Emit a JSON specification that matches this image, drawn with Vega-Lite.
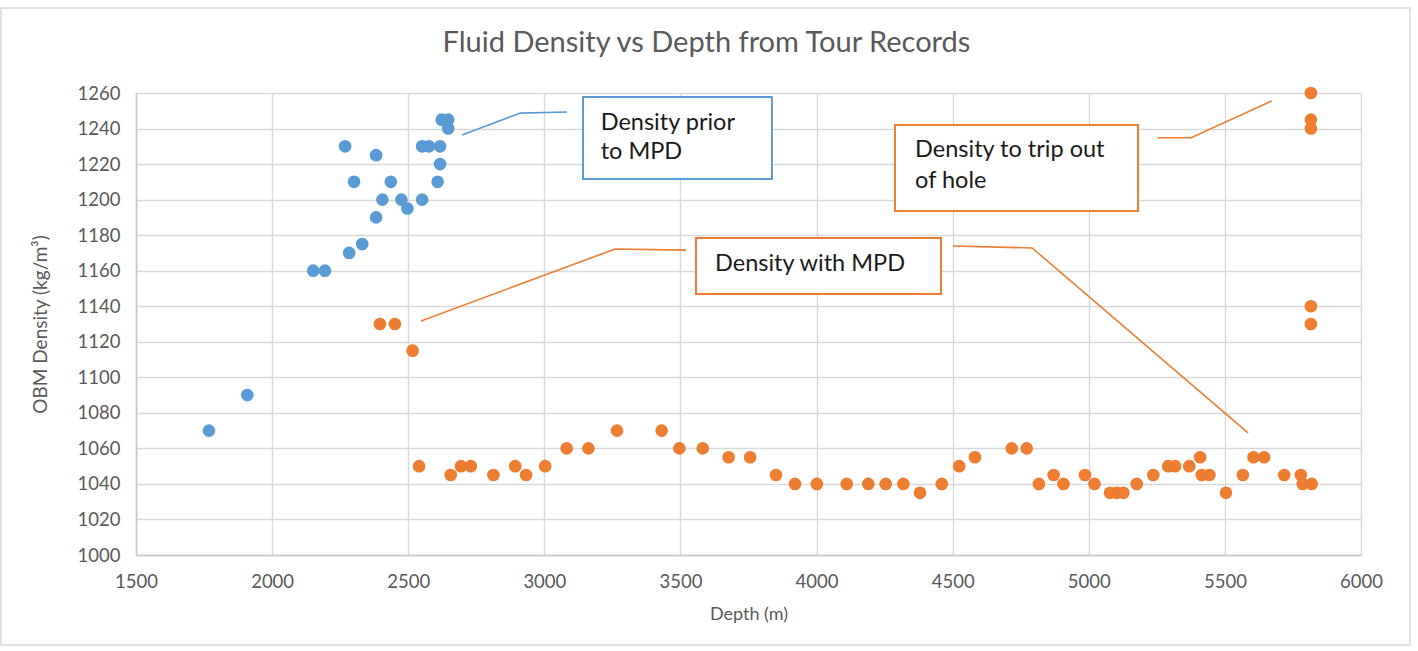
{
  "$schema": "https://vega.github.io/schema/vega-lite/v6.json",
  "width": 1225,
  "height": 462,
  "autosize": {"type": "none"},
  "padding": {"left": 136, "top": 93, "right": 57, "bottom": 96},
  "background": "white",
  "title": {
    "text": "Fluid Density vs Depth from Tour Records",
    "font": "Lato",
    "fontSize": 29,
    "fontWeight": "normal",
    "color": "#595959",
    "anchor": "middle",
    "baseline": "alphabetic",
    "offset": 0,
    "dx": -42,
    "dy": 74
  },
  "config": {
    "view": {"stroke": null},
    "font": "Lato",
    "axis": {
      "labelFont": "Lato",
      "labelFontSize": 18.5,
      "labelColor": "#595959",
      "labelOverlap": false,
      "labelFlush": false,
      "titleFont": "Lato",
      "titleFontSize": 18,
      "titleFontWeight": "normal",
      "titleColor": "#595959",
      "gridColor": "#D9D9D9",
      "gridWidth": 1.4,
      "domainColor": "#C8C8C8",
      "domainWidth": 1.5,
      "ticks": false,
      "tickSize": 0
    }
  },
  "datasets": {
    "points": [
      {"depth": 1768, "density": 1070, "series": "prior"},
      {"depth": 1909, "density": 1090, "series": "prior"},
      {"depth": 2151, "density": 1160, "series": "prior"},
      {"depth": 2194, "density": 1160, "series": "prior"},
      {"depth": 2268, "density": 1230, "series": "prior"},
      {"depth": 2283, "density": 1170, "series": "prior"},
      {"depth": 2301, "density": 1210, "series": "prior"},
      {"depth": 2331, "density": 1175, "series": "prior"},
      {"depth": 2382, "density": 1225, "series": "prior"},
      {"depth": 2382, "density": 1190, "series": "prior"},
      {"depth": 2405, "density": 1200, "series": "prior"},
      {"depth": 2436, "density": 1210, "series": "prior"},
      {"depth": 2475, "density": 1200, "series": "prior"},
      {"depth": 2497, "density": 1195, "series": "prior"},
      {"depth": 2551, "density": 1200, "series": "prior"},
      {"depth": 2551, "density": 1230, "series": "prior"},
      {"depth": 2576, "density": 1230, "series": "prior"},
      {"depth": 2608, "density": 1210, "series": "prior"},
      {"depth": 2617, "density": 1230, "series": "prior"},
      {"depth": 2617, "density": 1220, "series": "prior"},
      {"depth": 2623, "density": 1245, "series": "prior"},
      {"depth": 2647, "density": 1245, "series": "prior"},
      {"depth": 2647, "density": 1240, "series": "prior"},
      {"depth": 2396, "density": 1130, "series": "with"},
      {"depth": 2451, "density": 1130, "series": "with"},
      {"depth": 2516, "density": 1115, "series": "with"},
      {"depth": 2540, "density": 1050, "series": "with"},
      {"depth": 2656, "density": 1045, "series": "with"},
      {"depth": 2694, "density": 1050, "series": "with"},
      {"depth": 2730, "density": 1050, "series": "with"},
      {"depth": 2813, "density": 1045, "series": "with"},
      {"depth": 2893, "density": 1050, "series": "with"},
      {"depth": 2933, "density": 1045, "series": "with"},
      {"depth": 3003, "density": 1050, "series": "with"},
      {"depth": 3082, "density": 1060, "series": "with"},
      {"depth": 3162, "density": 1060, "series": "with"},
      {"depth": 3267, "density": 1070, "series": "with"},
      {"depth": 3431, "density": 1070, "series": "with"},
      {"depth": 3496, "density": 1060, "series": "with"},
      {"depth": 3582, "density": 1060, "series": "with"},
      {"depth": 3677, "density": 1055, "series": "with"},
      {"depth": 3756, "density": 1055, "series": "with"},
      {"depth": 3851, "density": 1045, "series": "with"},
      {"depth": 3921, "density": 1040, "series": "with"},
      {"depth": 4001, "density": 1040, "series": "with"},
      {"depth": 4111, "density": 1040, "series": "with"},
      {"depth": 4190, "density": 1040, "series": "with"},
      {"depth": 4254, "density": 1040, "series": "with"},
      {"depth": 4319, "density": 1040, "series": "with"},
      {"depth": 4380, "density": 1035, "series": "with"},
      {"depth": 4460, "density": 1040, "series": "with"},
      {"depth": 4524, "density": 1050, "series": "with"},
      {"depth": 4582, "density": 1055, "series": "with"},
      {"depth": 4717, "density": 1060, "series": "with"},
      {"depth": 4772, "density": 1060, "series": "with"},
      {"depth": 4817, "density": 1040, "series": "with"},
      {"depth": 4871, "density": 1045, "series": "with"},
      {"depth": 4907, "density": 1040, "series": "with"},
      {"depth": 4986, "density": 1045, "series": "with"},
      {"depth": 5021, "density": 1040, "series": "with"},
      {"depth": 5078, "density": 1035, "series": "with"},
      {"depth": 5103, "density": 1035, "series": "with"},
      {"depth": 5127, "density": 1035, "series": "with"},
      {"depth": 5176, "density": 1040, "series": "with"},
      {"depth": 5237, "density": 1045, "series": "with"},
      {"depth": 5292, "density": 1050, "series": "with"},
      {"depth": 5317, "density": 1050, "series": "with"},
      {"depth": 5369, "density": 1050, "series": "with"},
      {"depth": 5409, "density": 1055, "series": "with"},
      {"depth": 5415, "density": 1045, "series": "with"},
      {"depth": 5443, "density": 1045, "series": "with"},
      {"depth": 5504, "density": 1035, "series": "with"},
      {"depth": 5566, "density": 1045, "series": "with"},
      {"depth": 5605, "density": 1055, "series": "with"},
      {"depth": 5644, "density": 1055, "series": "with"},
      {"depth": 5718, "density": 1045, "series": "with"},
      {"depth": 5779, "density": 1045, "series": "with"},
      {"depth": 5786, "density": 1040, "series": "with"},
      {"depth": 5819, "density": 1040, "series": "with"},
      {"depth": 5816, "density": 1260, "series": "with"},
      {"depth": 5816, "density": 1245, "series": "with"},
      {"depth": 5816, "density": 1240, "series": "with"},
      {"depth": 5816, "density": 1140, "series": "with"},
      {"depth": 5816, "density": 1130, "series": "with"}
    ],
    "frame": [
      {"x1": 1004, "x2": 6180, "y1": 949.4, "y2": 1307.8}
    ],
    "boxes": [
      {"id": "prior", "series": "prior", "x1": 3142, "x2": 3836, "y1": 1211.6, "y2": 1257.7},
      {"id": "trip", "series": "with", "x1": 4288, "x2": 5181, "y1": 1193.6, "y2": 1242},
      {"id": "with", "series": "with", "x1": 3557, "x2": 4457, "y1": 1146.9, "y2": 1178.4}
    ],
    "leaders": [
      {"id": "a", "series": "prior", "o": 1, "depth": 2698, "density": 1236.4},
      {"id": "a", "series": "prior", "o": 2, "depth": 2911, "density": 1248.7},
      {"id": "a", "series": "prior", "o": 3, "depth": 3083, "density": 1249.3},
      {"id": "b", "series": "with", "o": 1, "depth": 5252, "density": 1234.8},
      {"id": "b", "series": "with", "o": 2, "depth": 5376, "density": 1234.8},
      {"id": "b", "series": "with", "o": 3, "depth": 5672, "density": 1255.5},
      {"id": "c", "series": "with", "o": 1, "depth": 2547, "density": 1131.7},
      {"id": "c", "series": "with", "o": 2, "depth": 3260, "density": 1172.2},
      {"id": "c", "series": "with", "o": 3, "depth": 3521, "density": 1171.6},
      {"id": "d", "series": "with", "o": 1, "depth": 4501, "density": 1173.9},
      {"id": "d", "series": "with", "o": 2, "depth": 4792, "density": 1172.8},
      {"id": "d", "series": "with", "o": 3, "depth": 5585, "density": 1068.7}
    ],
    "labels": [
      {"label": "Density prior", "depth": 3207, "density": 1239.2},
      {"label": "to MPD", "depth": 3207, "density": 1222.8},
      {"label": "Density to trip out", "depth": 4362, "density": 1224},
      {"label": "of hole", "depth": 4362, "density": 1206.5},
      {"label": "Density with MPD", "depth": 3627, "density": 1159.8}
    ]
  },
  "layer": [
    {
      "data": {"name": "frame"},
      "mark": {"type": "rect", "fill": null, "stroke": "#D9D9D9", "strokeWidth": 1.5},
      "encoding": {
        "x": {"field": "x1", "type": "quantitative", "scale": {"domain": [1500, 6000], "nice": false, "zero": false}, "axis": {"title": "Depth (m)", "values": [1500, 2000, 2500, 3000, 3500, 4000, 4500, 5000, 5500, 6000], "tickCount": 20, "format": "d", "labelPadding": 17, "titleY": 59, "titleBaseline": "middle", "titleAnchor": "middle"}},
        "x2": {"field": "x2"},
        "y": {"field": "y1", "type": "quantitative", "scale": {"domain": [1000, 1260], "nice": false, "zero": false}, "axis": {"title": "OBM Density (kg/m³)", "values": [1000, 1020, 1040, 1060, 1080, 1100, 1120, 1140, 1160, 1180, 1200, 1220, 1240, 1260], "tickCount": 20, "format": "d", "labelPadding": 16, "titleX": -96, "titleY": 231, "titleBaseline": "middle", "titleAngle": -90, "titleFontSize": 19}},
        "y2": {"field": "y2"}
      }
    },
    {
      "data": {"name": "points"},
      "mark": {"type": "circle", "size": 160, "opacity": 1},
      "encoding": {
        "x": {"field": "depth", "type": "quantitative"},
        "y": {"field": "density", "type": "quantitative"},
        "color": {"field": "series", "type": "nominal", "scale": {"domain": ["prior", "with"], "range": ["#5B9BD5", "#ED7D31"]}, "legend": null}
      }
    },
    {
      "data": {"name": "boxes"},
      "mark": {"type": "rect", "fill": "white", "strokeWidth": 2},
      "encoding": {
        "x": {"field": "x1", "type": "quantitative"},
        "x2": {"field": "x2"},
        "y": {"field": "y1", "type": "quantitative"},
        "y2": {"field": "y2"},
        "stroke": {"field": "series", "type": "nominal", "scale": {"domain": ["prior", "with"], "range": ["#5B9BD5", "#ED7D31"]}, "legend": null}
      }
    },
    {
      "data": {"name": "leaders"},
      "mark": {"type": "line", "strokeWidth": 1.6},
      "encoding": {
        "x": {"field": "depth", "type": "quantitative"},
        "y": {"field": "density", "type": "quantitative"},
        "detail": {"field": "id"},
        "order": {"field": "o"},
        "stroke": {"field": "series", "type": "nominal", "scale": {"domain": ["prior", "with"], "range": ["#5B9BD5", "#ED7D31"]}, "legend": null}
      }
    },
    {
      "data": {"name": "labels"},
      "mark": {"type": "text", "align": "left", "baseline": "alphabetic", "font": "Lato", "fontSize": 23.5, "color": "#1a1a1a"},
      "encoding": {
        "x": {"field": "depth", "type": "quantitative"},
        "y": {"field": "density", "type": "quantitative"},
        "text": {"field": "label"}
      }
    }
  ]
}
